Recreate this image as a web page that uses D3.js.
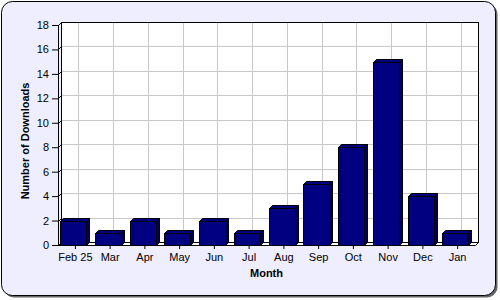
<!DOCTYPE html>
<html><head><meta charset="utf-8">
<script src="https://cdn.jsdelivr.net/npm/d3@7/dist/d3.min.js"></script>
<style>body{margin:0;background:#fff}svg{display:block}text{font-family:"Liberation Sans",Arial,sans-serif}</style>
</head><body>
<script>
const months = ["Feb 25","Mar","Apr","May","Jun","Jul","Aug","Sep","Oct","Nov","Dec","Jan"];
const downloads = [2,1,2,1,2,1,3,5,8,15,4,1];
const yTicks = [0,2,4,6,8,10,12,14,16,18];
const xTitle = "Month";
const yTitle = "Number of Downloads";

const W=500,H=300, D=3;
const svg=d3.select("body").append("svg").attr("width",W).attr("height",H);

// background with shadow
svg.append("rect").attr("x",3.5).attr("y",3.5).attr("width",494).attr("height",294).attr("rx",11).attr("fill","#666");
svg.append("rect").attr("x",1.5).attr("y",1.5).attr("width",494).attr("height",294).attr("rx",11).attr("fill","#eeeeff").attr("stroke","#000");

const x0=58,x1=475,yb=245,yt=25;
const x=d3.scaleBand().domain(months).range([x0,x1]).paddingInner(0).paddingOuter(0);
const y=d3.scaleLinear().domain([0,18]).range([yb,yt]);

const g=svg.append("g");
// back wall
g.append("rect").attr("x",x0+D+0.5).attr("y",yt-D+0.5).attr("width",x1-x0).attr("height",yb-yt).attr("fill","#fff").attr("stroke","#000");
// gridlines
g.selectAll(".hg").data(yTicks.slice(1,-1)).join("line")
 .attr("x1",x0+D+1).attr("x2",x1+D).attr("y1",d=>Math.round(y(d))-D+0.5).attr("y2",d=>Math.round(y(d))-D+0.5)
 .attr("stroke","#c8c8c8");
g.selectAll(".vg").data(months).join("line")
 .attr("x1",d=>Math.round(x(d)+x.bandwidth()/2)+D+0.5).attr("x2",d=>Math.round(x(d)+x.bandwidth()/2)+D+0.5)
 .attr("y1",yt-D+1).attr("y2",yb-D).attr("stroke","#c8c8c8");
// diagonal tick connectors on side wall
g.selectAll(".dg").data(yTicks).join("line")
 .attr("x1",x0+0.5).attr("y1",d=>Math.round(y(d))+0.5).attr("x2",x0+D+0.5).attr("y2",d=>Math.round(y(d))-D+0.5)
 .attr("stroke","#000");
// side wall
g.append("path").attr("d",`M${x0+0.5},${yt+0.5}L${x0+D+0.5},${yt-D+0.5}L${x0+D+0.5},${yb-D+0.5}L${x0+0.5},${yb+0.5}Z`)
 .attr("fill","none").attr("stroke","#000");
// floor
g.append("path").attr("d",`M${x0+0.5},${yb+0.5}L${x1+0.5},${yb+0.5}L${x1+D+0.5},${yb-D+0.5}L${x0+D+0.5},${yb-D+0.5}Z`)
 .attr("fill","#fff").attr("stroke","#000");

// bars
const bw=26;
const bars=g.selectAll(".bar").data(months.map((m,i)=>({m,v:downloads[i]}))).join("g");
bars.each(function(d){
  const s=d3.select(this);
  const bx=Math.round(x(d.m))+2.5, by=Math.round(y(d.v))+0.5, bh=yb-Math.round(y(d.v));
  s.append("path").attr("d",`M${bx},${by}L${bx+D},${by-D}L${bx+bw+D},${by-D}L${bx+bw},${by}Z`).attr("fill","#000080").attr("stroke","#000");
  s.append("path").attr("d",`M${bx+bw},${by}L${bx+bw+D},${by-D}L${bx+bw+D},${by+bh-D}L${bx+bw},${by+bh}Z`).attr("fill","#00005a").attr("stroke","#000");
  s.append("rect").attr("x",bx).attr("y",by).attr("width",bw).attr("height",bh).attr("fill","#000080").attr("stroke","#000");
});

// y axis
const ya=svg.append("g").attr("transform",`translate(${x0},0)`).call(d3.axisLeft(y).tickValues(yTicks).tickSize(6).tickPadding(3).tickFormat(d3.format("d")));
ya.select(".domain").remove();
ya.selectAll("line").attr("stroke","#000");
ya.selectAll("text").attr("font-size",11).attr("fill","#000").attr("font-family","Liberation Sans, Arial, sans-serif");
svg.append("line").attr("x1",x0+0.5).attr("x2",x0+0.5).attr("y1",yt).attr("y2",yb+1).attr("stroke","#000");

// x axis
const xa=svg.append("g").attr("transform",`translate(0,${yb})`).call(d3.axisBottom(x).tickSize(4).tickPadding(4));
xa.select(".domain").remove();
xa.selectAll("line").attr("stroke","#000");
xa.selectAll("text").attr("font-size",11).attr("fill","#000").attr("font-family","Liberation Sans, Arial, sans-serif");

svg.append("text").attr("x",(x0+x1)/2).attr("y",277).attr("text-anchor","middle").attr("font-weight","bold").attr("font-size",11).text(xTitle);
svg.append("text").attr("transform",`translate(29,${(yt+yb)/2+6}) rotate(-90)`).attr("text-anchor","middle").attr("font-weight","bold").attr("font-size",11).text(yTitle);
</script>
</body></html>
